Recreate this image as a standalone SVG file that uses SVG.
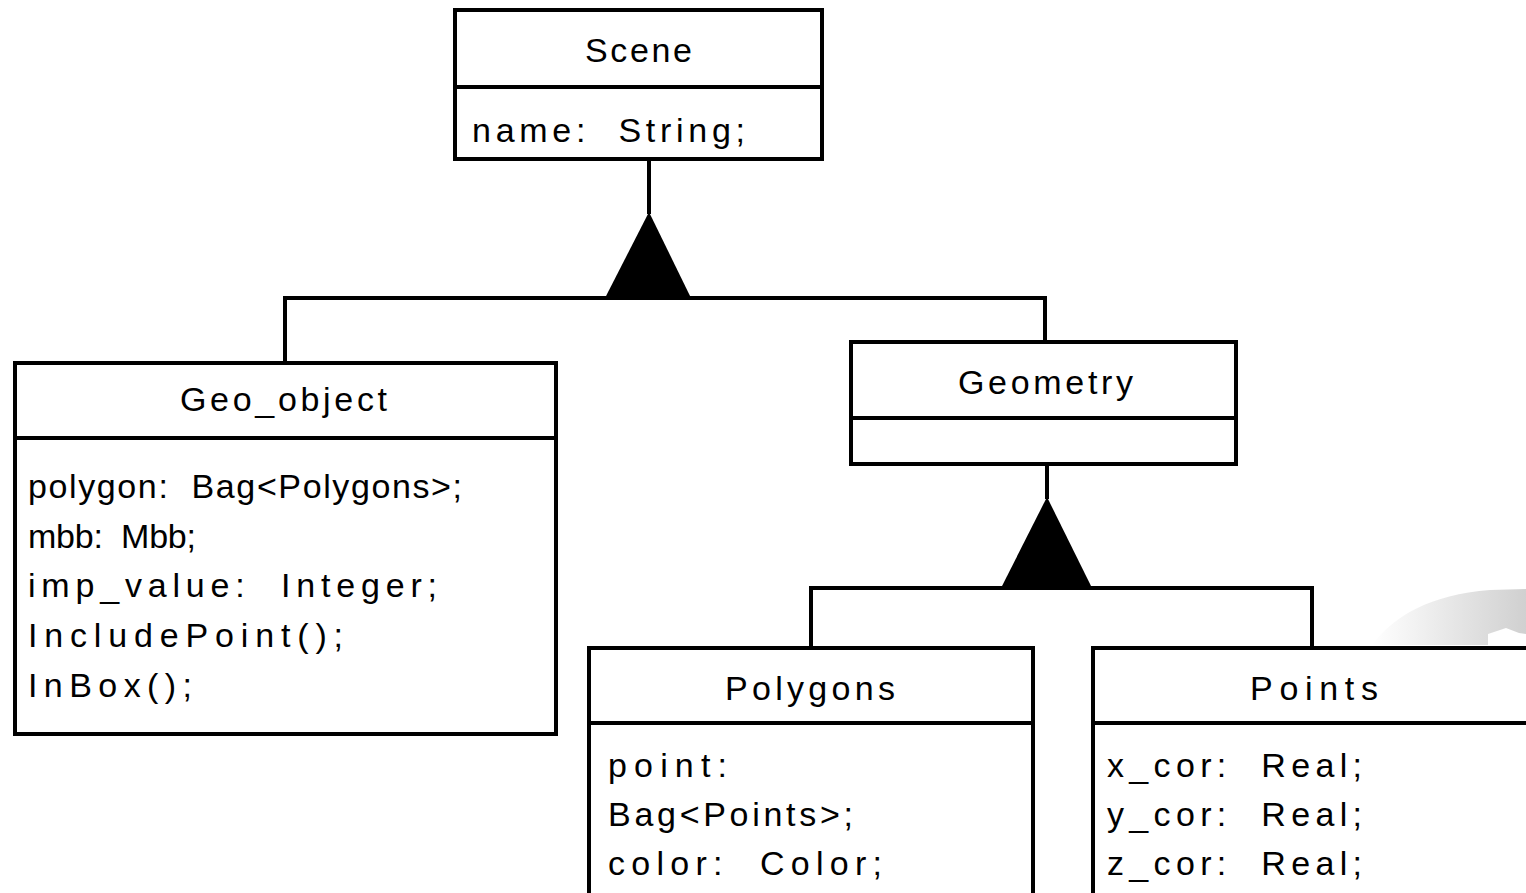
<svg xmlns="http://www.w3.org/2000/svg" width="1526" height="893" viewBox="0 0 1526 893">
<style>
.box{fill:#fff;stroke:#000;stroke-width:4}
.div{stroke:#000;stroke-width:4}
.ln{stroke:#000;stroke-width:4;fill:none}
.tri{fill:#000;stroke:none}
text{font-family:"Liberation Sans",Arial,sans-serif;font-size:34px;fill:#000;white-space:pre}
</style>
<defs>
<linearGradient id="sw" x1="0" y1="0" x2="1" y2="0">
<stop offset="0" stop-color="#ffffff"/>
<stop offset="1" stop-color="#d0d0d0"/>
</linearGradient>
</defs>
<rect width="1526" height="893" fill="#fff"/>
<path d="M1372,645 C1395,615 1430,595 1490,590 L1526,589 L1526,634 L1519,633 L1506,628 L1488,634 L1488,645 Z" fill="url(#sw)"/>
<g id="connectors">
<line class="ln" x1="649" y1="159" x2="649" y2="214"/>
<polygon class="tri" points="649,212 604,300 692,300"/>
<polyline class="ln" points="285,363 285,298 1045,298 1045,342"/>
<line class="ln" x1="1047" y1="464" x2="1047" y2="499"/>
<polygon class="tri" points="1047,497 1000,590 1093,590"/>
<polyline class="ln" points="811,648 811,588 1312,588 1312,648"/>
</g>
<g id="scene">
<rect class="box" x="455" y="10" width="367" height="149"/>
<line class="div" x1="455" y1="87" x2="822" y2="87"/>
<text x="585" y="62" textLength="107" lengthAdjust="spacing">Scene</text>
<text x="472" y="142" textLength="273" lengthAdjust="spacing">name:  String;</text>
</g>
<g id="geo_object">
<rect class="box" x="15" y="363" width="541" height="371"/>
<line class="div" x1="15" y1="438" x2="556" y2="438"/>
<text x="180" y="411" textLength="207" lengthAdjust="spacing">Geo_object</text>
<text x="28" y="498" textLength="434" lengthAdjust="spacing">polygon:  Bag&lt;Polygons&gt;;</text>
<text x="28" y="548" textLength="168" lengthAdjust="spacing">mbb:  Mbb;</text>
<text x="28" y="597" textLength="409" lengthAdjust="spacing">imp_value:  Integer;</text>
<text x="28" y="647" textLength="315" lengthAdjust="spacing">IncludePoint();</text>
<text x="28" y="697" textLength="164" lengthAdjust="spacing">InBox();</text>
</g>
<g id="geometry">
<rect class="box" x="851" y="342" width="385" height="122"/>
<line class="div" x1="851" y1="418" x2="1236" y2="418"/>
<text x="958" y="394" textLength="175" lengthAdjust="spacing">Geometry</text>
</g>
<g id="polygons">
<rect class="box" x="589" y="648" width="444" height="260"/>
<line class="div" x1="589" y1="723" x2="1033" y2="723"/>
<text x="725" y="700" textLength="170" lengthAdjust="spacing">Polygons</text>
<text x="608" y="777" textLength="119" lengthAdjust="spacing">point:</text>
<text x="608" y="826" textLength="245" lengthAdjust="spacing">Bag&lt;Points&gt;;</text>
<text x="608" y="875" textLength="274" lengthAdjust="spacing">color:  Color;</text>
</g>
<g id="points">
<rect class="box" x="1093" y="648" width="450" height="260"/>
<line class="div" x1="1093" y1="723" x2="1543" y2="723"/>
<text x="1250" y="700" textLength="128" lengthAdjust="spacing">Points</text>
<text x="1107" y="777" textLength="255" lengthAdjust="spacing">x_cor:  Real;</text>
<text x="1107" y="826" textLength="255" lengthAdjust="spacing">y_cor:  Real;</text>
<text x="1107" y="875" textLength="255" lengthAdjust="spacing">z_cor:  Real;</text>
</g>
</svg>
